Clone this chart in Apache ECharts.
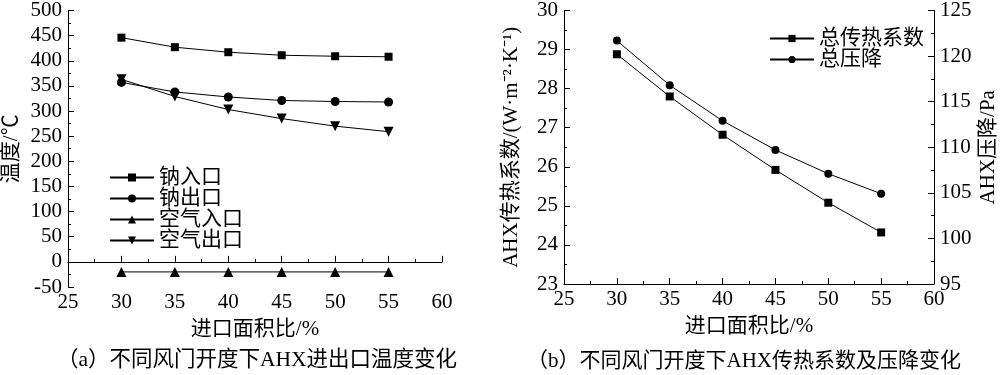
<!DOCTYPE html>
<html>
<head>
<meta charset="utf-8">
<script src="https://cdn.jsdelivr.net/npm/echarts@6/dist/echarts.min.js"></script>
<style>
  html, body { margin: 0; padding: 0; background: #fff; }
  #main { width: 1000px; height: 375px; }
</style>
</head>
<body>
<div id="main"></div>
<script>
var FONT = '"Liberation Serif", "Noto Sans CJK SC", serif';

// 进口面积比 (%)
var ratio = [30, 35, 40, 45, 50, 55];

// (a) 温度
var naIn = [446, 427, 417, 411, 409, 408];
var naOut = [357, 338, 328, 321, 319, 318];
var airIn = [-20, -20, -20, -20, -20, -20];
var airOut = [363, 329, 303, 285, 270, 259];

// (b) 传热系数 / 压降
var heatCoef = [28.88, 27.8, 26.82, 25.92, 25.08, 24.32];
var pressDrop = [121.7, 116.8, 112.9, 109.7, 107.1, 104.9];

function pairs(ys) {
  return ratio.map(function (x, i) { return [x, ys[i]]; });
}

const chart = echarts.init(document.getElementById('main'));

var lineStyle = { color: '#000', width: 1 };
var itemStyle = { color: '#000' };
var labelStyle = { color: '#000', fontSize: 21, fontFamily: FONT };
var axisLine = { show: true, lineStyle: { color: '#000', width: 1 } };
var axisTick = { show: true, inside: true, length: 6, lineStyle: { color: '#000' } };
var minorTick = { show: true, splitNumber: 2, length: 3, lineStyle: { color: '#000' } };

function xAxis(idx) {
  return {
    type: 'value', gridIndex: idx, min: 25, max: 60, interval: 5,
    name: '进口面积比/%', nameLocation: 'middle', nameGap: 32,
    nameTextStyle: labelStyle,
    axisLine: axisLine, axisTick: axisTick, minorTick: minorTick,
    axisLabel: Object.assign({ margin: 5 }, labelStyle),
    splitLine: { show: false }
  };
}

function series(name, ys, symbol, size, xi, yi) {
  return {
    name: name, type: 'line', data: pairs(ys),
    xAxisIndex: xi, yAxisIndex: yi,
    symbol: symbol, symbolSize: size,
    lineStyle: lineStyle, itemStyle: itemStyle,
    showAllSymbol: true, animation: false
  };
}

var downTri = 'path://M0,0 L10,0 L5,9 Z';

var option = {
  backgroundColor: '#fff',
  animation: false,
  textStyle: { fontFamily: FONT, color: '#000' },
  grid: [
    { left: 68, top: 10, width: 374, height: 277 },
    { left: 564, top: 9, width: 371, height: 275 }
  ],
  legend: [
    {
      data: ['钠入口', '钠出口', '空气入口', '空气出口'],
      orient: 'vertical', left: 104, top: 162, itemGap: 0,
      itemWidth: 44, itemHeight: 10,
      textStyle: { color: '#000', fontSize: 21, fontFamily: FONT }
    },
    {
      data: ['总传热系数', '总压降'],
      orient: 'vertical', left: 764, top: 23, itemGap: 0,
      itemWidth: 44, itemHeight: 9,
      textStyle: { color: '#000', fontSize: 21, fontFamily: FONT }
    }
  ],
  xAxis: [xAxis(0), xAxis(1)],
  yAxis: [
    {
      type: 'value', gridIndex: 0, min: -50, max: 500, interval: 50,
      name: '温度/℃', nameLocation: 'middle', nameGap: 46, nameRotate: 90,
      nameTextStyle: labelStyle,
      axisLine: axisLine, axisTick: axisTick, minorTick: minorTick,
      axisLabel: Object.assign({ margin: 6 }, labelStyle),
      splitLine: { show: false }
    },
    {
      type: 'value', gridIndex: 1, min: 23, max: 30, interval: 1,
      name: 'AHX传热系数/(W·m⁻²·K⁻¹)', nameLocation: 'middle', nameGap: 42, nameRotate: 90,
      nameTextStyle: labelStyle,
      axisLine: axisLine, axisTick: axisTick, minorTick: minorTick,
      axisLabel: Object.assign({ margin: 6 }, labelStyle),
      splitLine: { show: false }
    },
    {
      type: 'value', gridIndex: 1, position: 'right', min: 95, max: 125, interval: 5,
      name: 'AHX压降/Pa', nameLocation: 'middle', nameGap: 44, nameRotate: 90,
      nameTextStyle: labelStyle,
      axisLine: axisLine, axisTick: axisTick, minorTick: minorTick,
      axisLabel: Object.assign({ margin: 6 }, labelStyle),
      splitLine: { show: false }
    }
  ],
  series: [
    series('钠入口', naIn, 'rect', 8, 0, 0),
    series('钠出口', naOut, 'circle', 9, 0, 0),
    series('空气入口', airIn, 'triangle', 10, 0, 0),
    series('空气出口', airOut, downTri, 10, 0, 0),
    series('总传热系数', heatCoef, 'rect', 8, 1, 1),
    series('总压降', pressDrop, 'circle', 8, 1, 2)
  ],
  graphic: [
    {
      type: 'text', left: 57, top: 350,
      style: { text: '（a）不同风门开度下AHX进出口温度变化', fill: '#000', font: '21.5px ' + FONT }
    },
    {
      type: 'text', left: 527, top: 351,
      style: { text: '（b）不同风门开度下AHX传热系数及压降变化', fill: '#000', font: '21px ' + FONT }
    }
  ]
};

chart.setOption(option);
</script>
</body>
</html>
